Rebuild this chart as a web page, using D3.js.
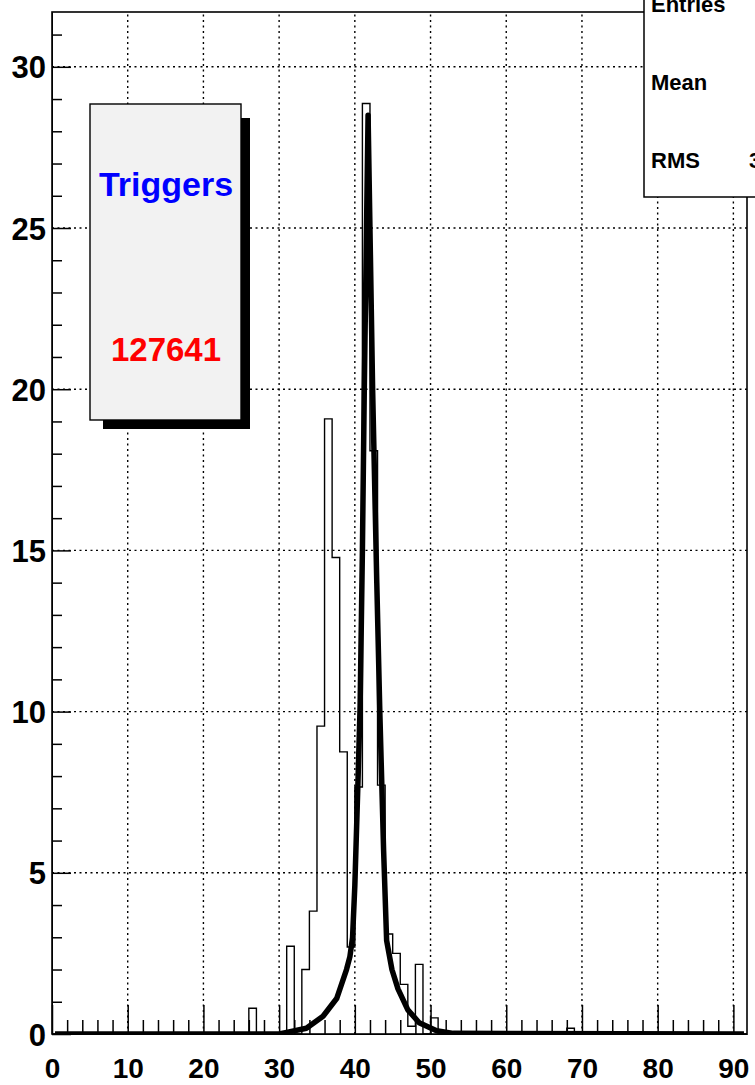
<!DOCTYPE html>
<html lang="en">
<head>
  <meta charset="UTF-8">
  <title>Triggers histogram with fit</title>
  <script src="https://d3js.org/d3.v7.min.js"></script>
  <style>
    body { margin: 0; background: #fff; }
    svg { display: block; font-family: "Liberation Sans", Arial, sans-serif; font-weight: bold; }
  </style>
</head>
<body>
  <svg id="chart" width="755" height="1085"></svg>
  <script>
    // Histogram bins (lower edge, bin width 1) that are not empty, and their contents
    const binLow    = [26, 31, 33, 34, 35, 36, 37, 38, 39, 40, 41, 42, 43, 44, 45, 46, 47, 48, 50, 68];
    const binCounts = [0.8, 2.72, 2.0, 3.81, 9.55, 19.08, 14.78, 8.75, 2.7, 7.66, 28.86, 18.09, 7.72, 3.1, 2.5, 1.54, 0.24, 2.16, 0.5, 0.18];

    // Fit curve, points
    const fitX = [0.4, 30, 31, 33.6, 35.8, 37.6, 38.9, 39.35, 39.7, 40.0, 40.4, 40.7, 41.0, 41.25, 41.75, 42.35, 42.9, 43.3, 43.8, 44.2, 44.9, 45.7, 47.0, 48.5, 50.8, 53, 91.4];
    const fitY = [0, 0, 0.05, 0.18, 0.55, 1.1, 2.0, 2.4, 3.0, 4.6, 7.7, 10.2, 15, 20, 28.5, 20, 14, 10, 5.7, 2.9, 2.0, 1.4, 0.75, 0.35, 0.1, 0.02, 0];

    // Axis ticks
    const xMajor = [0, 10, 20, 30, 40, 50, 60, 70, 80, 90];
    const xMinor = d3.range(0, 92, 2).filter(v => v % 10 !== 0);
    const yMajor = [0, 5, 10, 15, 20, 25, 30];
    const yMinor = d3.range(0, 32, 1).filter(v => v % 5 !== 0);

    // Pave texts
    const paveTitle = "Triggers";
    const paveValue = "127641";
    const statLabels = ["Entries", "Mean", "RMS"];
    const statValues = ["", "", "3.4"];

    const svg = d3.select("#chart");
    const frame = { left: 52, top: 12, right: 747, bottom: 1034 };

    const x = d3.scaleLinear().domain([0, 91.8]).range([frame.left, frame.right]);
    const y = d3.scaleLinear().domain([0, 31.7]).range([frame.bottom, frame.top]);

    svg.append("rect").attr("width", 755).attr("height", 1085).attr("fill", "#fff");

    svg.append("clipPath").attr("id", "clip")
      .append("rect")
        .attr("x", frame.left).attr("y", frame.top)
        .attr("width", frame.right - frame.left).attr("height", frame.bottom - frame.top);

    // dotted grid
    const grid = svg.append("g").attr("stroke", "#000").attr("stroke-width", 1.4)
      .attr("stroke-dasharray", "2,3.5");
    grid.selectAll(".gx").data(xMajor.slice(1)).join("line")
      .attr("x1", d => x(d)).attr("x2", d => x(d))
      .attr("y1", frame.bottom).attr("y2", frame.top);
    grid.selectAll(".gy").data(yMajor.slice(1)).join("line")
      .attr("y1", d => y(d)).attr("y2", d => y(d))
      .attr("x1", frame.left).attr("x2", frame.right);

    // histogram outline
    const counts = new Map(binLow.map((b, i) => [b, binCounts[i]]));
    const histPts = d3.range(0, 92).map(k => [k, counts.get(k) || 0]);
    histPts.push([91.8, counts.get(91) || 0]);
    svg.append("path")
      .attr("clip-path", "url(#clip)")
      .attr("fill", "none").attr("stroke", "#000").attr("stroke-width", 1.4)
      .attr("d", d3.line().x(d => x(d[0])).y(d => y(d[1])).curve(d3.curveStepAfter)(histPts));

    // fit function
    svg.append("path")
      .attr("clip-path", "url(#clip)")
      .attr("fill", "none").attr("stroke", "#000").attr("stroke-width", 5.5)
      .attr("stroke-linejoin", "round")
      .attr("d", d3.line().x((d, i) => x(fitX[i])).y(d => y(d))(fitY));

    // x axis
    const xAxis = svg.append("g").attr("transform", `translate(0,${frame.bottom})`)
      .call(d3.axisBottom(x).tickValues(xMajor).tickSize(-29).tickSizeOuter(0).tickPadding(24).tickFormat(d3.format("d")));
    svg.append("g").attr("transform", `translate(0,${frame.bottom})`)
      .call(d3.axisBottom(x).tickValues(xMinor).tickSize(-14).tickSizeOuter(0).tickFormat(""))
      .call(g => g.select(".domain").remove());
    xAxis.selectAll("text").attr("font-size", 28).attr("font-family", "Liberation Sans, Arial, sans-serif")
      .attr("font-weight", "bold").attr("fill", "#000");

    // y axis
    const yAxis = svg.append("g").attr("transform", `translate(${frame.left},0)`)
      .call(d3.axisLeft(y).tickValues(yMajor).tickSize(-19).tickSizeOuter(0).tickPadding(6).tickFormat(d3.format("d")));
    svg.append("g").attr("transform", `translate(${frame.left},0)`)
      .call(d3.axisLeft(y).tickValues(yMinor).tickSize(-10).tickSizeOuter(0).tickFormat(""))
      .call(g => g.select(".domain").remove());
    yAxis.selectAll("text").attr("font-size", 31).attr("dy", "0.36em")
      .attr("font-family", "Liberation Sans, Arial, sans-serif").attr("font-weight", "bold").attr("fill", "#000");

    svg.selectAll(".tick line").attr("stroke", "#000").attr("stroke-width", 1.5);

    // frame
    svg.append("rect")
      .attr("x", frame.left).attr("y", frame.top)
      .attr("width", frame.right - frame.left).attr("height", frame.bottom - frame.top)
      .attr("fill", "none").attr("stroke", "#000").attr("stroke-width", 1.6);

    // Triggers pave with shadow
    const pave = svg.append("g");
    pave.append("rect").attr("x", 103).attr("y", 118).attr("width", 147).attr("height", 311).attr("fill", "#000");
    pave.append("rect").attr("x", 90).attr("y", 104).attr("width", 151).attr("height", 316)
      .attr("fill", "#f2f2f2").attr("stroke", "#000").attr("stroke-width", 1.4);
    pave.append("text").attr("x", 166).attr("y", 196).attr("text-anchor", "middle")
      .attr("font-size", 34).attr("fill", "#0000ff").text(paveTitle);
    pave.append("text").attr("x", 166).attr("y", 361).attr("text-anchor", "middle")
      .attr("font-size", 33).attr("fill", "#ff0000").text(paveValue);

    // statistics box, mostly outside the window
    const stats = svg.append("g");
    stats.append("rect").attr("x", 644).attr("y", -60).attr("width", 160).attr("height", 257)
      .attr("fill", "#fff").attr("stroke", "#000").attr("stroke-width", 1.5);
    stats.selectAll(".lab").data(statLabels).join("text")
      .attr("x", 651).attr("y", (d, i) => 12 + i * 78)
      .attr("font-size", 22).attr("fill", "#000").text(d => d);
    stats.selectAll(".val").data(statValues).join("text")
      .attr("x", 749).attr("y", (d, i) => 12 + i * 78)
      .attr("font-size", 22).attr("fill", "#000").text(d => d);
  </script>
</body>
</html>
